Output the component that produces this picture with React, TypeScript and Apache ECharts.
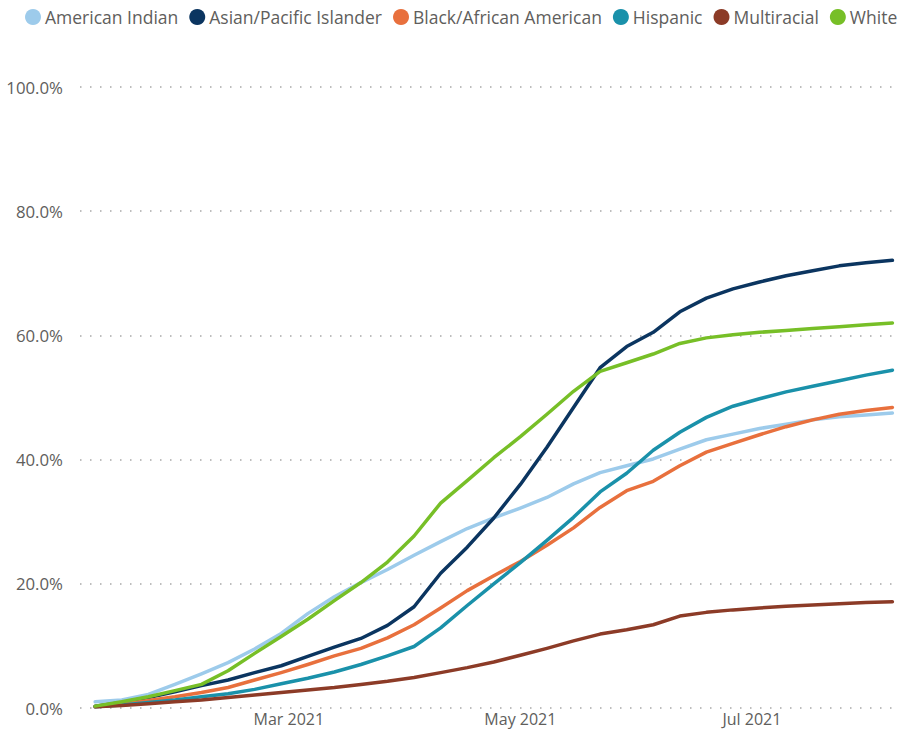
import React, { useEffect, useRef } from "react";
import * as echarts from "echarts";

const dates = [
  "2021-01-09", "2021-01-16", "2021-01-23", "2021-01-30", "2021-02-06", "2021-02-13",
  "2021-02-20", "2021-02-27", "2021-03-06", "2021-03-13", "2021-03-20", "2021-03-27",
  "2021-04-03", "2021-04-10", "2021-04-17", "2021-04-24", "2021-05-01", "2021-05-08",
  "2021-05-15", "2021-05-22", "2021-05-29", "2021-06-05", "2021-06-12", "2021-06-19",
  "2021-06-26", "2021-07-03", "2021-07-10", "2021-07-17", "2021-07-24", "2021-07-31",
  "2021-08-07",
];

const americanIndian = [
  1.0, 1.3, 2.2, 3.8, 5.5, 7.3, 9.5, 12.0, 15.2, 17.9, 20.2, 22.3, 24.6, 26.8, 28.9, 30.6,
  32.2, 33.9, 36.1, 37.9, 39.0, 40.1, 41.7, 43.2, 44.1, 45.0, 45.7, 46.4, 46.9, 47.2, 47.5,
];
const asianPacific = [
  0.3, 0.9, 1.7, 2.6, 3.6, 4.5, 5.7, 6.8, 8.3, 9.8, 11.2, 13.3, 16.3, 21.7, 25.9, 30.6,
  36.0, 42.0, 48.4, 54.8, 58.2, 60.5, 63.8, 66.0, 67.5, 68.6, 69.6, 70.4, 71.2, 71.7, 72.1,
];
const blackAfrican = [
  0.2, 0.6, 1.2, 1.8, 2.5, 3.3, 4.5, 5.7, 7.0, 8.4, 9.6, 11.3, 13.4, 16.1, 18.9, 21.3,
  23.6, 26.2, 29.0, 32.3, 35.0, 36.5, 39.0, 41.2, 42.6, 44.0, 45.3, 46.4, 47.3, 47.9, 48.4,
];
const hispanic = [
  0.2, 0.5, 0.9, 1.3, 1.8, 2.3, 3.0, 3.9, 4.8, 5.8, 7.0, 8.4, 9.9, 12.9, 16.5, 20.0,
  23.4, 27.0, 30.7, 34.8, 37.8, 41.5, 44.4, 46.8, 48.6, 49.8, 50.9, 51.8, 52.7, 53.6, 54.4,
];
const multiracial = [
  0.2, 0.4, 0.7, 1.0, 1.3, 1.7, 2.1, 2.5, 2.9, 3.3, 3.8, 4.3, 4.9, 5.7, 6.5, 7.4,
  8.5, 9.6, 10.8, 11.9, 12.6, 13.4, 14.8, 15.4, 15.8, 16.1, 16.4, 16.6, 16.8, 17.0, 17.1,
];
const white = [
  0.3, 1.0, 1.8, 2.8, 3.8, 6.0, 8.8, 11.5, 14.3, 17.3, 20.2, 23.5, 27.7, 33.0, 36.6, 40.3,
  43.7, 47.3, 51.0, 54.2, 55.6, 57.0, 58.7, 59.6, 60.1, 60.5, 60.8, 61.1, 61.4, 61.7, 62.0,
];

const seriesNames = [
  "American Indian",
  "Asian/Pacific Islander",
  "Black/African American",
  "Hispanic",
  "Multiracial",
  "White",
];
const seriesValues = [americanIndian, asianPacific, blackAfrican, hispanic, multiracial, white];
const colors = ["#9DCBEB", "#0B3560", "#E8703D", "#1A91AA", "#8C3B27", "#77BF27"];

const yTicks = [0, 20, 40, 60, 80, 100];
const xLabelDates = ["2021-03-01", "2021-05-01", "2021-07-01"];
const xMin = "2021-01-05";
const xMax = "2021-08-09";
const monthNames = ["Jan", "Feb", "Mar", "Apr", "May", "Jun", "Jul", "Aug", "Sep", "Oct", "Nov", "Dec"];

const FONT = "'Open Sans', 'Noto Sans', sans-serif";

export default function App() {
  const ref = useRef<HTMLDivElement>(null);

  useEffect(() => {
    if (!ref.current) return;
    const chart = echarts.init(ref.current, null, { renderer: "svg" });
    const ts = (s: string) => new Date(s + "T00:00:00Z").getTime();
    chart.setOption({
      animation: false,
      color: colors,
      textStyle: { fontFamily: FONT },
      legend: {
        data: seriesNames,
        left: 25,
        top: 8,
        padding: 0,
        icon: "circle",
        itemWidth: 16,
        itemHeight: 16,
        itemGap: 11,
        textStyle: { fontFamily: FONT, fontSize: 17.5, color: "#605E5C", padding: [0, 0, 0, -1] },
      },
      grid: { left: 80, right: 3, top: 87, bottom: 22, containLabel: false, outerBoundsMode: "none" },
      xAxis: {
        type: "value",
        min: ts(xMin),
        max: ts(xMax),
        axisLine: { show: false },
        axisTick: { show: false },
        splitLine: { show: false },
        axisLabel: {
          customValues: xLabelDates.map(ts),
          interval: 0,
          hideOverlap: false,
          showMinLabel: true,
          showMaxLabel: true,
          margin: 3,
          fontSize: 16,
          lineHeight: 16,
          color: "#605E5C",
          fontFamily: FONT,
          formatter: (v: number) => {
            const d = new Date(v);
            return monthNames[d.getUTCMonth()] + " " + d.getUTCFullYear();
          },
        },
      },
      yAxis: {
        type: "value",
        min: yTicks[0],
        max: yTicks[yTicks.length - 1],
        interval: 20,
        axisLine: { show: false },
        axisTick: { show: false },
        axisLabel: {
          margin: 17,
          fontSize: 16.8,
          color: "#605E5C",
          fontFamily: FONT,
          formatter: (v: number) => v.toFixed(1) + "%",
        },
        splitLine: {
          show: true,
          lineStyle: { color: "#A8A8A8", width: 1.5, type: [1.5, 8.5] },
        },
      },
      series: seriesNames.map((name, i) => ({
        name,
        type: "line",
        data: dates.map((d, j) => [ts(d), seriesValues[i][j]]),
        showSymbol: false,
        symbol: "none",
        lineStyle: { width: 3.5, color: colors[i], join: "round", cap: "round" },
        itemStyle: { color: colors[i] },
      })),
    });
    return () => chart.dispose();
  }, []);

  return (
    <div
      ref={ref}
      style={{ position: "fixed", left: 0, top: 0, width: 903, height: 730, background: "#fff" }}
    />
  );
}
